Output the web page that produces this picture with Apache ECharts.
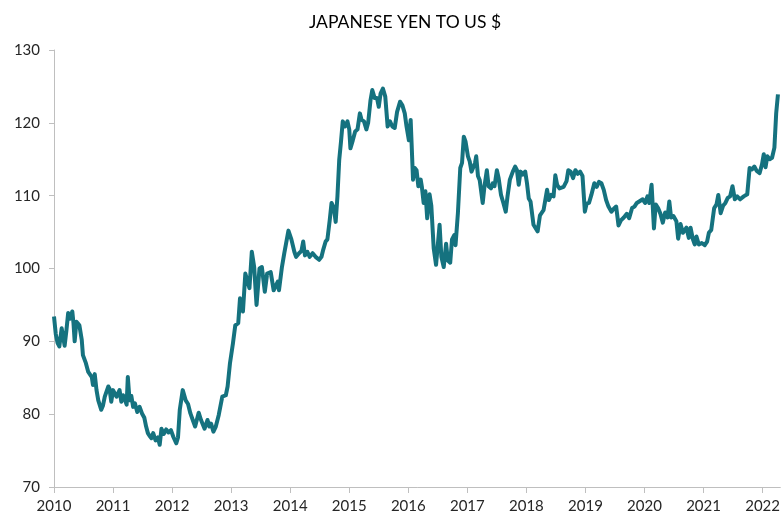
<!DOCTYPE html>
<html>
<head>
<meta charset="utf-8">
<script src="https://cdn.jsdelivr.net/npm/echarts@6/dist/echarts.min.js"></script>
<style>
  html, body { margin: 0; padding: 0; background: #fff; }
  #chart { width: 783px; height: 518px; }
</style>
</head>
<body>
<div id="chart"></div>
<script>
// time position of each reading, in decimal years
var yearPos = [
  2010.00, 2010.03, 2010.06, 2010.09, 2010.13, 2010.18, 2010.21, 2010.24, 2010.27, 2010.31,
  2010.33, 2010.35, 2010.38, 2010.43, 2010.47, 2010.49, 2010.54, 2010.58, 2010.64, 2010.66,
  2010.69, 2010.72, 2010.75, 2010.80, 2010.83, 2010.86, 2010.92, 2010.94, 2010.97, 2011.00,
  2011.06, 2011.11, 2011.14, 2011.17, 2011.20, 2011.23, 2011.25, 2011.28, 2011.31, 2011.34,
  2011.37, 2011.41, 2011.45, 2011.49, 2011.53, 2011.56, 2011.59, 2011.62, 2011.65, 2011.68,
  2011.72, 2011.76, 2011.79, 2011.82, 2011.86, 2011.90, 2011.94, 2011.98, 2012.02, 2012.07,
  2012.10, 2012.13, 2012.18, 2012.23, 2012.27, 2012.31, 2012.35, 2012.39, 2012.45, 2012.49,
  2012.55, 2012.60, 2012.63, 2012.66, 2012.70, 2012.74, 2012.79, 2012.85, 2012.91, 2012.94,
  2012.98, 2013.03, 2013.07, 2013.12, 2013.15, 2013.20, 2013.24, 2013.27, 2013.31, 2013.35,
  2013.39, 2013.43, 2013.48, 2013.52, 2013.57, 2013.61, 2013.67, 2013.72, 2013.79, 2013.81,
  2013.86, 2013.90, 2013.97, 2014.02, 2014.07, 2014.10, 2014.15, 2014.19, 2014.22, 2014.25,
  2014.29, 2014.33, 2014.38, 2014.43, 2014.49, 2014.53, 2014.56, 2014.60, 2014.63, 2014.67,
  2014.70, 2014.74, 2014.77, 2014.80, 2014.83, 2014.86, 2014.89, 2014.93, 2014.97, 2015.00,
  2015.02, 2015.06, 2015.10, 2015.14, 2015.18, 2015.21, 2015.25, 2015.29, 2015.32, 2015.36,
  2015.39, 2015.43, 2015.47, 2015.50, 2015.53, 2015.57, 2015.61, 2015.65, 2015.69, 2015.73,
  2015.77, 2015.81, 2015.86, 2015.90, 2015.94, 2015.97, 2016.01, 2016.04, 2016.08, 2016.11,
  2016.14, 2016.17, 2016.21, 2016.23, 2016.26, 2016.29, 2016.32, 2016.36, 2016.39, 2016.43,
  2016.47, 2016.53, 2016.56, 2016.60, 2016.64, 2016.67, 2016.71, 2016.74, 2016.78, 2016.80,
  2016.84, 2016.88, 2016.91, 2016.94, 2016.97, 2017.01, 2017.04, 2017.07, 2017.10, 2017.13,
  2017.15, 2017.18, 2017.21, 2017.26, 2017.29, 2017.33, 2017.36, 2017.40, 2017.43, 2017.46,
  2017.50, 2017.53, 2017.57, 2017.61, 2017.65, 2017.68, 2017.72, 2017.77, 2017.81, 2017.84,
  2017.87, 2017.90, 2017.94, 2017.98, 2018.01, 2018.04, 2018.07, 2018.12, 2018.15, 2018.19,
  2018.23, 2018.29, 2018.32, 2018.35, 2018.38, 2018.42, 2018.46, 2018.49, 2018.52, 2018.56,
  2018.63, 2018.68, 2018.71, 2018.75, 2018.79, 2018.83, 2018.87, 2018.91, 2018.95, 2018.99,
  2019.02, 2019.06, 2019.10, 2019.15, 2019.19, 2019.23, 2019.27, 2019.31, 2019.35, 2019.39,
  2019.44, 2019.48, 2019.52, 2019.56, 2019.60, 2019.65, 2019.70, 2019.74, 2019.79, 2019.83,
  2019.87, 2019.91, 2019.97, 2020.01, 2020.05, 2020.08, 2020.12, 2020.16, 2020.19, 2020.23,
  2020.27, 2020.31, 2020.35, 2020.39, 2020.42, 2020.45, 2020.49, 2020.54, 2020.57, 2020.61,
  2020.65, 2020.71, 2020.75, 2020.78, 2020.82, 2020.85, 2020.88, 2020.92, 2020.97, 2021.02,
  2021.06, 2021.09, 2021.13, 2021.18, 2021.22, 2021.25, 2021.29, 2021.33, 2021.37, 2021.41,
  2021.45, 2021.49, 2021.53, 2021.57, 2021.62, 2021.68, 2021.74, 2021.78, 2021.82, 2021.86,
  2021.90, 2021.95, 2021.99, 2022.02, 2022.05, 2022.08, 2022.12, 2022.16, 2022.20, 2022.23,
  2022.26
];

// yen per US dollar
var yenPerUsd = [
  93.4, 91.0, 89.8, 89.3, 91.8, 89.4, 91.5, 93.9, 93.1, 94.1,
  92.5, 90.0, 92.7, 92.2, 90.2, 88.1, 87.0, 85.8, 85.1, 84.0,
  85.5, 83.3, 81.9, 80.6, 81.2, 82.4, 83.8, 83.5, 81.7, 83.3,
  82.4, 83.3, 81.7, 82.6, 82.0, 81.3, 85.1, 81.9, 82.5, 81.0,
  81.5, 80.3, 81.0, 80.1, 79.5, 78.3, 77.4, 77.0, 76.7, 77.4,
  76.4, 76.8, 75.8, 78.0, 77.3, 77.9, 77.5, 77.8, 76.9, 76.0,
  76.8, 80.6, 83.3, 81.9, 81.4, 80.1, 79.2, 78.3, 80.2, 79.2,
  78.0, 79.2, 78.3, 78.7, 77.6, 78.3, 79.9, 82.4, 82.6, 83.8,
  87.0, 89.7, 92.2, 92.5, 95.9, 94.1, 99.3, 99.1, 97.3, 102.3,
  100.2, 95.0, 100.0, 100.2, 96.8, 99.3, 99.5, 97.0, 98.2, 97.0,
  100.2, 102.1, 105.2, 104.0, 102.3, 101.6, 102.1, 102.4, 103.7, 101.8,
  102.3, 101.6, 102.1, 101.6, 101.2, 101.6, 102.6, 103.7, 104.0, 106.7,
  109.0, 108.3, 106.4, 109.9, 114.9, 117.4, 120.2, 119.5, 120.2, 119.1,
  116.5, 117.6, 118.8, 119.1, 121.3, 120.4, 120.2, 119.1, 120.0, 123.1,
  124.5, 123.4, 123.4, 122.2, 124.0, 124.7, 123.6, 119.5, 120.2, 119.5,
  119.3, 121.5, 122.9, 122.4, 121.3, 119.5, 117.6, 120.4, 112.2, 113.8,
  113.5, 111.3, 112.2, 111.2, 109.0, 110.6, 106.9, 110.2, 108.6, 102.8,
  100.5, 106.0, 101.6, 100.2, 103.4, 101.1, 100.8, 104.0, 104.6, 103.2,
  107.6, 113.8, 114.5, 118.1, 117.4, 115.4, 114.7, 113.3, 113.3, 114.5,
  115.4, 112.7, 112.1, 109.0, 111.3, 113.5, 111.3, 111.0, 111.7, 111.3,
  113.5, 112.4, 110.1, 109.0, 107.8, 109.9, 112.2, 113.3, 114.0, 113.5,
  111.5, 113.3, 112.9, 113.3, 111.7, 109.6, 109.2, 106.0, 105.8, 105.1,
  107.3, 108.0, 109.4, 110.8, 109.4, 110.1, 109.9, 112.8, 111.5, 111.0,
  111.2, 112.0, 113.5, 113.3, 112.4, 113.5, 113.0, 113.3, 112.7, 107.8,
  108.9, 109.0, 110.1, 111.7, 111.2, 111.9, 111.7, 110.8, 109.4, 108.5,
  107.8, 108.2, 108.5, 105.9, 106.6, 107.0, 107.5, 106.9, 108.3, 108.5,
  109.0, 109.2, 109.5, 109.0, 109.9, 109.0, 111.5, 105.5, 108.8, 108.3,
  107.5, 106.3, 107.7, 107.0, 109.2, 107.0, 107.2, 106.5, 104.1, 106.1,
  104.9, 105.6, 104.2, 105.6, 104.0, 103.3, 104.4, 103.3, 103.5, 103.2,
  103.7, 104.9, 105.3, 108.3, 108.8, 110.1, 107.6, 108.6, 109.0, 109.7,
  109.9, 111.3, 109.5, 109.9, 109.5, 109.9, 110.2, 113.8, 113.6, 114.0,
  113.4, 113.1, 114.3, 115.7, 113.9, 115.4, 115.0, 115.2, 116.6, 121.3,
  123.9
];

var yearTicks = [2010, 2011, 2012, 2013, 2014, 2015, 2016, 2017, 2018, 2019, 2020, 2021, 2022];
var yTicks = [70, 80, 90, 100, 110, 120, 130];

var points = yearPos.map(function (t, i) { return [t, yenPerUsd[i]]; });

var fontName = 'Lato, "Open Sans", sans-serif';
var myChart = echarts.init(document.getElementById('chart'));
var option = {
    animation: false,
    backgroundColor: '#ffffff',
    title: {
        text: 'JAPANESE YEN TO US $',
        left: 400,
        textAlign: 'center',
        top: 8,
        textStyle: {
            fontFamily: fontName,
            fontSize: 17.5,
            fontWeight: 'normal',
            color: '#000000'
        }
    },
    grid: {
        left: 54,
        right: 1,
        top: 50,
        bottom: 31
    },
    xAxis: {
        type: 'value',
        min: 2010,
        max: 2022.3,
        interval: 1,
        axisLine: { show: true, lineStyle: { color: '#bfbfbf', width: 1 } },
        axisTick: { show: true, length: 6, customValues: yearTicks, lineStyle: { color: '#bfbfbf' } },
        axisLabel: {
            customValues: yearTicks,
            margin: 12,
            fontFamily: fontName,
            fontSize: 15,
            color: '#262626',
            formatter: function (v) { return String(v); }
        },
        splitLine: { show: false }
    },
    yAxis: {
        type: 'value',
        min: 70,
        max: 130,
        interval: 10,
        axisLine: { show: true, lineStyle: { color: '#bfbfbf', width: 1 } },
        axisTick: { show: true, length: 5, customValues: yTicks, lineStyle: { color: '#bfbfbf' } },
        axisLabel: {
            customValues: yTicks,
            margin: 14,
            fontFamily: fontName,
            fontSize: 15,
            color: '#262626'
        },
        splitLine: { show: false }
    },
    series: [
        {
            name: 'JPY per USD',
            type: 'line',
            data: points,
            symbol: 'none',
            lineStyle: { color: '#15727f', width: 4, join: 'round' },
            itemStyle: { color: '#15727f' }
        }
    ]
};
myChart.setOption(option);
</script>
</body>
</html>
